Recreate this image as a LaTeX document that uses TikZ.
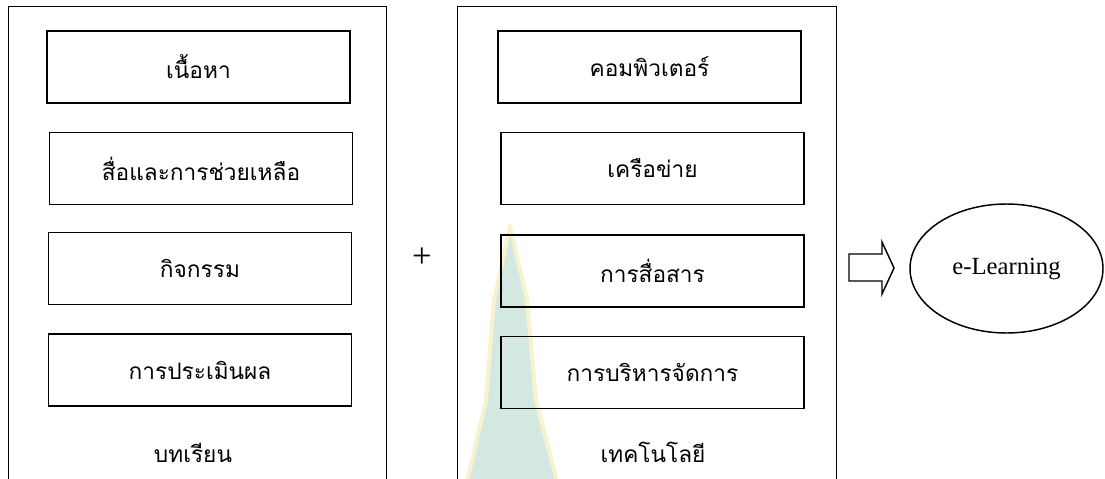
\documentclass[tikz,border=0pt]{standalone}
\usepackage{fontspec}
\setmainfont{Liberation Serif}
\newfontfamily\thaifont[Script=Thai]{Loma}
\usetikzlibrary{shapes.geometric,positioning}

\definecolor{spire}{RGB}{212,232,226}
\definecolor{spireedge}{RGB}{248,243,205}

\tikzset{
panel/.style={draw,line width=1.1pt,anchor=north west,inner sep=0pt,minimum height=375pt},
topic/.style={draw,line width=1.1pt,minimum width=227.25pt,minimum height=54pt,inner sep=0pt},
caption/.style={inner sep=0pt}}

\begin{document}
\begin{tikzpicture}
  [x=0.75pt,y=-0.75pt,
   every node/.style={font=\thaifont\fontsize{17}{20}\selectfont}]
  \useasboundingbox (0,0) rectangle (1105,478);
  \clip (0,0) rectangle (1105,478);
  \fill[spire,draw=spireedge,line width=3pt,line join=round]
    (510,226) -- (494,300) -- (486,400) -- (467,482)
    -- (557,482) -- (536,400) -- (527,300) -- cycle;

  \node[panel,minimum width=283.5pt] (lesson) at (8,6) {};
  \node[panel,minimum width=284.25pt] (techno) at (457,6) {};

  \node[topic] (content) at (198.5,67) {เนื้อหา};
  \node[topic] (media) at (201,168.5) {สื่อและการช่วยเหลือ};
  \node[topic] (activity) at (200,268.5) {กิจกรรม};
  \node[topic] (assess) at (200,370) {การประเมินผล};
  \node[caption] (lessonlbl) at (193,453) {บทเรียน};

  \node[topic] (computer) at (649.5,67) {คอมพิวเตอร์};
  \node[topic] (network) at (652.5,168.5) {เครือข่าย};
  \node[topic] (comm) at (652.5,271) {การสื่อสาร};
  \node[topic] (manage) at (652.5,372.5) {การบริหารจัดการ};
  \node[caption] (technolbl) at (653,452) {เทคโนโลยี};

  \node[caption,font=\fontsize{26}{28}\selectfont] (plus) at (422,258) {+};

  \draw[line width=1.1pt] (849,254) -- (882,254) -- (882,242) -- (894,268)
    -- (882,294) -- (882,281) -- (849,281) -- cycle;

  \node[draw,ellipse,line width=1.1pt,minimum width=144.75pt,minimum height=96.75pt,
        font=\fontsize{18.5}{20}\selectfont] (elearn) at (1006.5,268.5) {e-Learning};
\end{tikzpicture}
\end{document}
